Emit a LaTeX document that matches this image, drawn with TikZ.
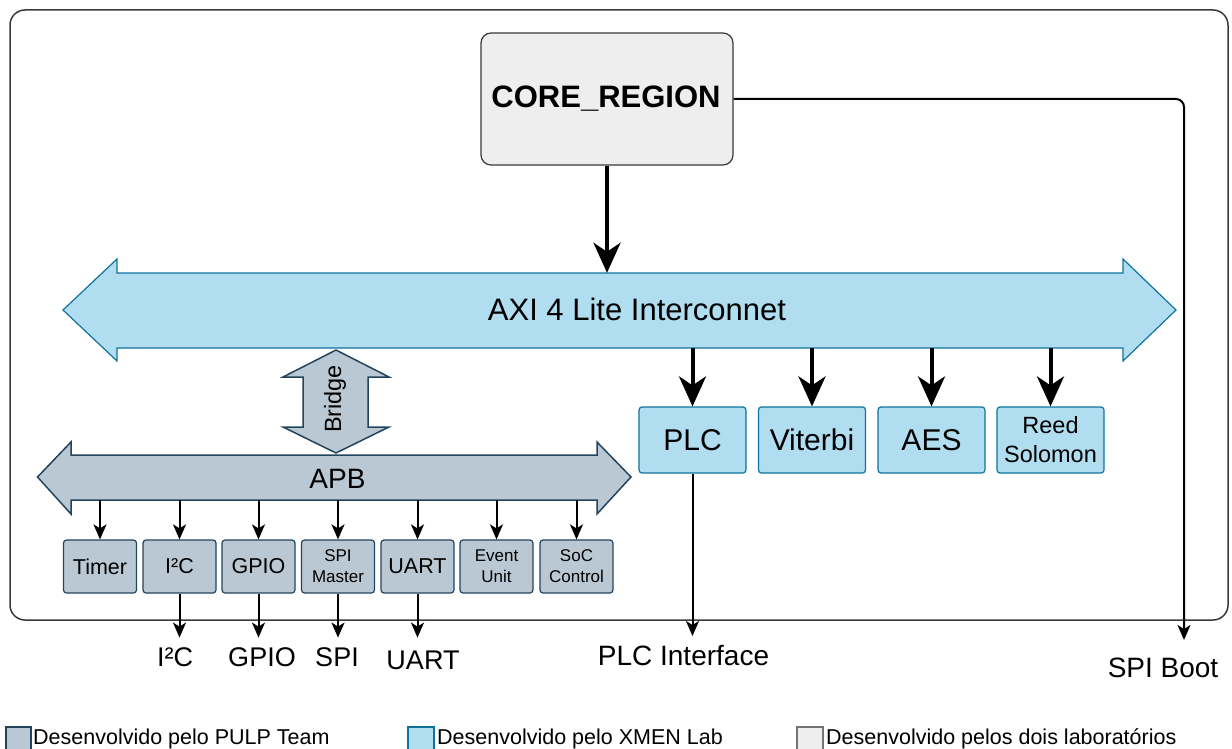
\documentclass[tikz,border=0pt]{standalone}
\usepackage{fontspec}
\setmainfont{Liberation Sans}
\usetikzlibrary{arrows.meta}

\definecolor{pulpfill}{HTML}{BAC8D3}
\definecolor{pulpline}{HTML}{23445D}
\definecolor{xmenfill}{HTML}{B1DDF0}
\definecolor{xmenline}{HTML}{10739E}
\definecolor{bothfill}{HTML}{EEEEEE}
\definecolor{bothline}{HTML}{36393D}
\definecolor{framecol}{HTML}{3A3A3A}

\newcommand\fsz[2]{\fontsize{#1}{#2}\selectfont}

\begin{document}
\begin{tikzpicture}[x=1pt,y=-1pt,
  outerbox/.style={draw=framecol, line width=1.5pt, rounded corners=15pt, inner sep=0pt},
  pulpbox/.style={draw=pulpline, fill=pulpfill, line width=1.2pt, rounded corners=3pt,
                  minimum width=73pt, minimum height=53pt, inner sep=0pt, align=center},
  xmenbox/.style={draw=xmenline, fill=xmenfill, line width=1.2pt, rounded corners=3pt,
                  minimum width=107pt, minimum height=66pt, inner sep=0pt, align=center},
  bothbox/.style={draw=bothline, fill=bothfill, line width=1.2pt, rounded corners=10pt,
                  inner sep=0pt},
  pulpbus/.style={draw=pulpline, fill=pulpfill, line width=1.5pt, line join=miter},
  xmenbus/.style={draw=xmenline, fill=xmenfill, line width=1.2pt, line join=miter},
  busbody/.style={inner sep=0pt},
  label/.style={inner sep=0pt, anchor=base},
  bigarrow/.style={line width=4pt, -{Stealth[length=30pt,width=27pt,inset=9pt]}},
  thinarrow/.style={line width=2pt, -{Stealth[length=15pt,width=13pt,inset=4pt]}},
  single/.style={font=\fsz{21.5}{26}},
  double/.style={font=\fsz{17}{21}},
  legend/.style={inner sep=0pt, anchor=base west, font=\fsz{21.5}{26}}
]
\useasboundingbox (0,0) rectangle (1232,749);

% SoC boundary
\node[outerbox, minimum width=1218pt, minimum height=610pt] (soc) at (619,315) {};

% core region
\node[bothbox, minimum width=252pt, minimum height=132pt] (core) at (607,99) {};
\node[inner sep=0pt, font=\fsz{31}{37}\bfseries] (coretxt) at (606,99) {CORE\_REGION};

% AXI interconnect bus
\path[xmenbus] (63,310) -- (117,259) -- (117,273) -- (1123,273) -- (1123,259)
  -- (1176,310) -- (1123,361) -- (1123,348) -- (117,348) -- (117,361) -- cycle;
\node[busbody, minimum width=1006pt, minimum height=75pt] (axi) at (620,310.5) {};
\node[inner sep=0pt, font=\fsz{31}{37}] (axitxt) at (637,309) {AXI 4 Lite Interconnet};

% APB bus
\path[pulpbus] (37.5,477) -- (71,442) -- (71,455) -- (597,455) -- (597,442)
  -- (631,477) -- (597,514) -- (597,500) -- (71,500) -- (71,514) -- cycle;
\node[busbody, minimum width=526pt, minimum height=45pt] (apb) at (334,477.5) {};
\node[inner sep=0pt, font=\fsz{28}{34}] (apbtxt) at (337.5,479) {APB};

% AXI-APB bridge
\path[pulpbus] (336,350) -- (389,377) -- (368,377) -- (368,427) -- (389,427)
  -- (336,453) -- (283,427) -- (303,427) -- (303,377) -- (283,377) -- cycle;
\node[busbody, minimum width=65pt, minimum height=50pt] (bridge) at (335.5,402) {};
\node[inner sep=0pt, rotate=90, font=\fsz{23.5}{28}] (bridgetxt) at (335,399) {Bridge};

% XMEN accelerators
\node[xmenbox, font=\fsz{30}{36}] (plc) at (692.5,440) {PLC};
\node[xmenbox, font=\fsz{30}{36}] (vit) at (812,440) {Viterbi};
\node[xmenbox, font=\fsz{30}{36}] (aes) at (931.5,440) {AES};
\node[xmenbox, font=\fsz{23.5}{29}] (rs) at (1050.5,440) {Reed\\Solomon};

% PULP peripherals
\node[pulpbox, single] (timer) at (100,566.5) {Timer};
\node[pulpbox, single] (iic)   at (179.5,566.5) {I²C};
\node[pulpbox, single] (gpio)  at (258.5,566.5) {GPIO};
\node[pulpbox, double] (spim)  at (338,566.5) {SPI\\Master};
\node[pulpbox, single] (uart)  at (417.5,566.5) {UART};
\node[pulpbox, double] (evu)   at (496.5,566.5) {Event\\Unit};
\node[pulpbox, double] (socc)  at (576.5,566.5) {SoC\\Control};

% connections: core
\draw[bigarrow] (core.south) -- (core.south |- axi.north);
\coordinate (spiend) at (1184,640);
\draw[thinarrow, rounded corners=8pt] (core.east) -| (spiend);

% connections: AXI to accelerators
\foreach \n in {plc,vit,aes,rs}
  \draw[bigarrow] (axi.south -| \n) -- (\n.north);

% connections: APB to peripherals
\foreach \n in {timer,iic,gpio,spim,uart,evu,socc}
  \draw[thinarrow] (apb.south -| \n) -- (\n.north);

% external pins
\coordinate (plcend) at (692.5,636);
\draw[thinarrow] (plc.south) -- (plcend);
\foreach \n in {iic,gpio,spim,uart}{
  \coordinate (\n end) at ([yshift=-44pt]\n.south);
  \draw[thinarrow] (\n.south) -- (\n end);
}

% pin labels
\node[label, font=\fsz{27}{32}] (liic)  at (175,666) {I²C};
\node[label, font=\fsz{27}{32}] (lgpio) at (262,666) {GPIO};
\node[label, font=\fsz{27}{32}] (lspi)  at (337,666) {SPI};
\node[label, font=\fsz{27}{32}] (luart) at (423,669) {UART};
\node[label, font=\fsz{28}{34}] (lplc)  at (683.5,665) {PLC Interface};
\node[label, font=\fsz{28}{34}] (lspib) at (1163,677) {SPI Boot};

% legend
\path[draw=pulpline, fill=pulpfill, line width=1.2pt] (6,727) rectangle (31,760);
\node[legend] (leg1) at (33,744) {Desenvolvido pelo PULP Team};
\path[draw=xmenline, fill=xmenfill, line width=1.2pt] (408,727) rectangle (434,760);
\node[legend] (leg2) at (437,744) {Desenvolvido pelo XMEN Lab};
\path[draw=bothline!70, fill=bothfill, line width=1.2pt] (797,727) rectangle (823,760);
\node[legend] (leg3) at (826,744) {Desenvolvido pelos dois laboratórios};
\end{tikzpicture}
\end{document}
